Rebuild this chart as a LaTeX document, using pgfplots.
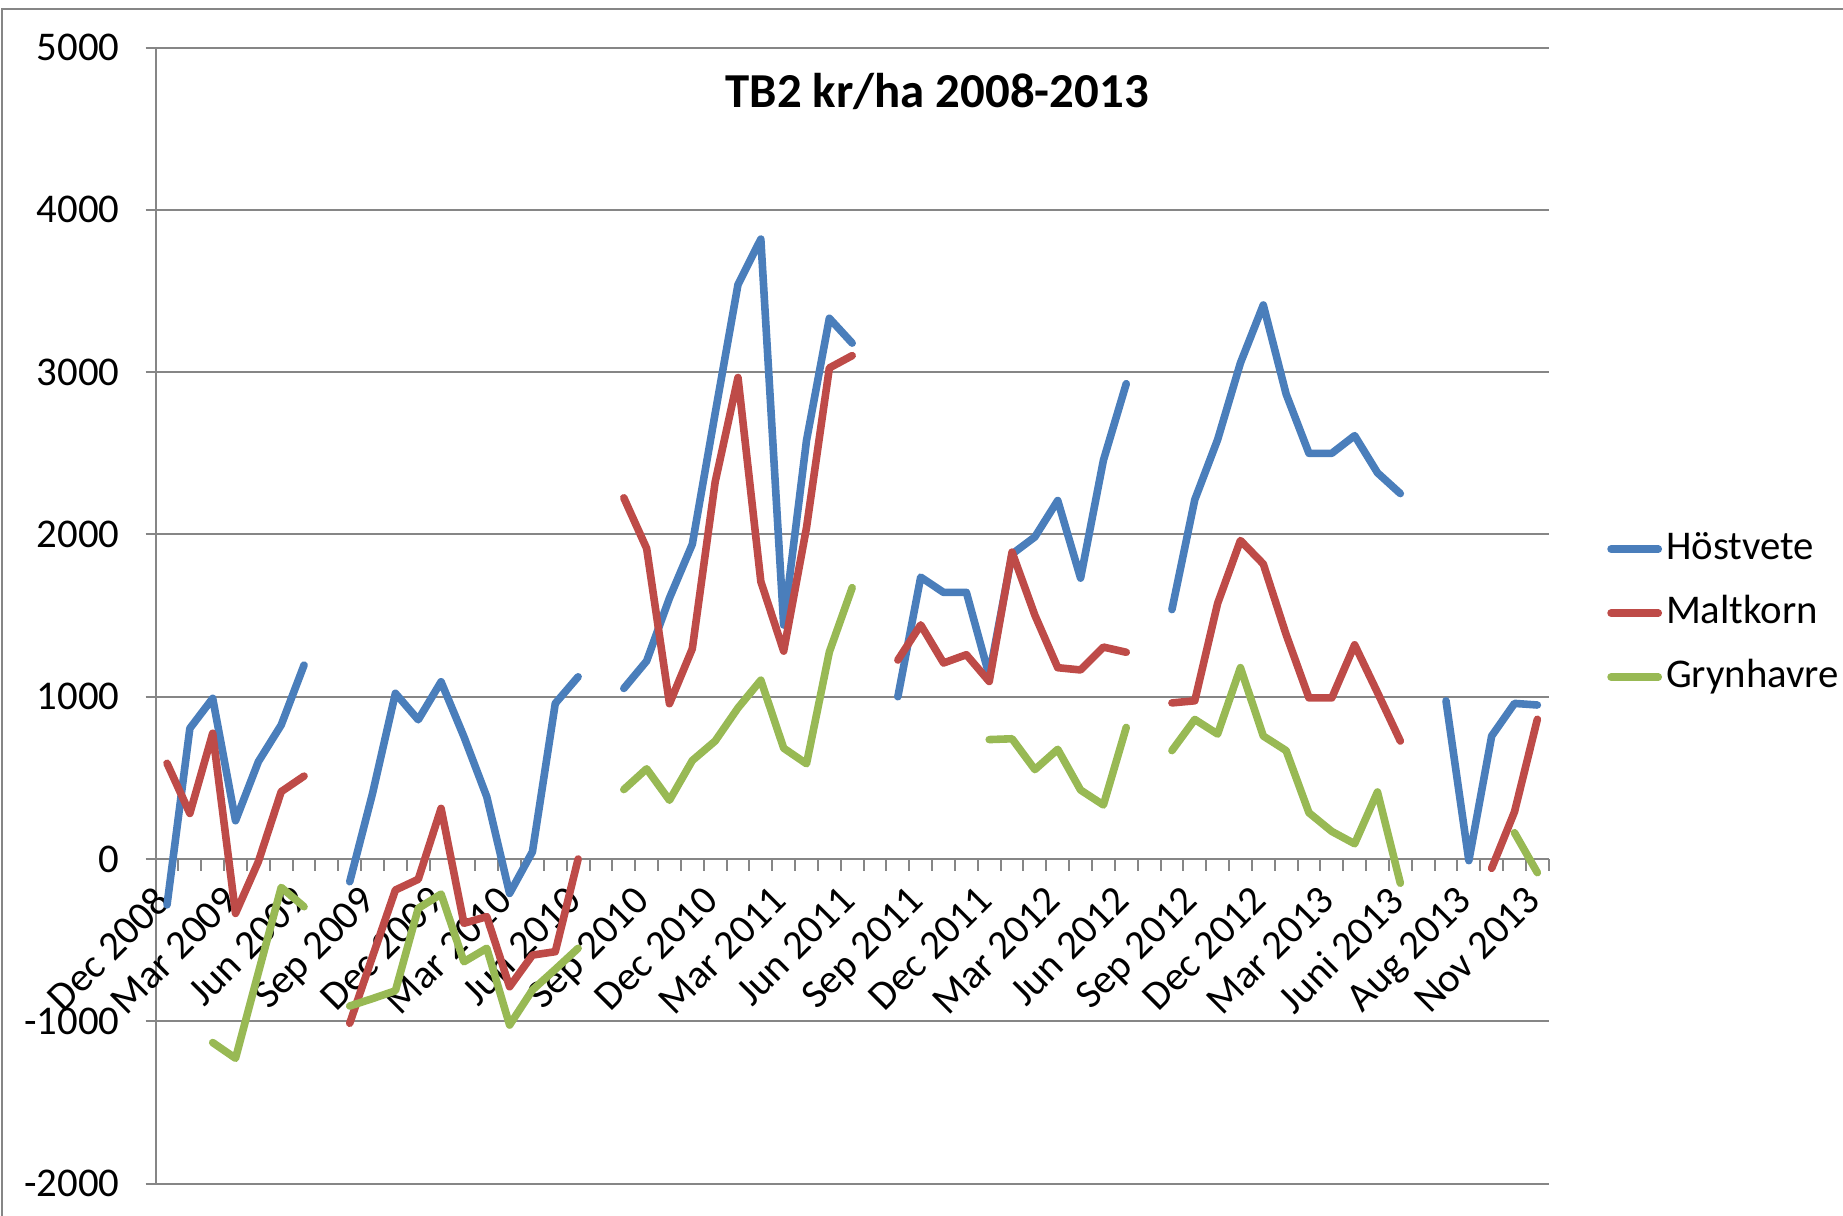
\documentclass[border=0pt]{standalone}
\usepackage{pgfplots}
\pgfplotsset{compat=1.18}
\usepackage{pgfplotstable}
\usepackage{fontspec}
\setmainfont{Carlito}
\definecolor{cBlue}{RGB}{74,126,187}
\definecolor{cRed}{RGB}{190,75,72}
\definecolor{cGreen}{RGB}{152,185,84}
\definecolor{cGrid}{RGB}{134,134,134}

\pgfplotstableread{
i H M G
0 -283 590 nan
1 805 281 nan
2 990 775 -1131
3 236 -335 -1228
4 600 -16 -700
5 826 415 -175
6 1195 511 -294
7 nan nan nan
8 -140 -1012 -906
9 405 -600 -860
10 1021 -191 -812
11 858 -125 -304
12 1092 312 -216
13 754 -396 -633
14 384 -355 -550
15 -212 -787 -1023
16 45 -592 -807
17 959 -571 -680
18 1123 0 -550
19 nan nan nan
20 1051 2226 428
21 1220 1914 556
22 1608 957 362
23 1940 1296 607
24 2746 2323 727
25 3540 2967 931
26 3820 1710 1102
27 1442 1281 683
28 2579 2042 587
29 3332 3026 1276
30 3179 3102 1672
31 nan nan nan
32 1000 1226 nan
33 1737 1443 nan
34 1643 1208 nan
35 1643 1259 nan
36 1130 1094 736
37 1879 1891 741
38 1985 1502 551
39 2209 1179 676
40 1731 1165 425
41 2457 1306 333
42 2929 1274 811
43 nan nan nan
44 1537 962 668
45 2214 975 860
46 2584 1575 770
47 3057 1963 1179
48 3414 1818 758
49 2865 1383 668
50 2500 993 285
51 2500 993 170
52 2609 1320 94
53 2380 1026 413
54 2252 727 -149
55 nan nan nan
56 975 nan nan
57 -10 nan nan
58 758 -57 nan
59 959 291 162
60 949 861 -84
}\datatable

\begin{document}
\begin{tikzpicture}
\useasboundingbox (0,0) rectangle (460.75pt,304pt);
\draw[cGrid, line width=0.5pt] (0.6pt,0) -- (0.6pt,301.75pt) -- (460.75pt,301.75pt);
\begin{axis}[
  scale only axis,
  width=348.3pt, height=284pt,
  at={(38.9pt,8.1pt)}, anchor=south west,
  xmin=-0.5, xmax=60.5, ymin=-2000, ymax=5000,
  axis x line*=middle, axis y line*=left,
  hide obscured x ticks=false, hide obscured y ticks=false,
  axis line style={cGrid, line width=0.5pt},
  ytick={-2000,-1000,0,1000,2000,3000,4000,5000},
  yticklabels={-2000,-1000,0,1000,2000,3000,4000,5000},
  ymajorgrids,
  grid style={cGrid, line width=0.5pt},
  tick align=outside,
  major tick length=2.5pt,
  minor tick length=2.9pt,
  tick style={cGrid, line width=0.5pt},
  major x tick style={draw=none},
  xtick={0,3,...,60},
  xticklabels={Dec 2008,Mar 2009,Jun 2009,Sep 2009,Dec 2009,Mar 2010,Jun 2010,Sep 2010,Dec 2010,Mar 2011,Jun 2011,Sep 2011,Dec 2011,Mar 2012,Jun 2012,Sep 2012,Dec 2012,Mar 2013,Juni 2013,Aug 2013,Nov 2013},
  minor xtick={-0.5,0.5,...,60.5},
  ticklabel style={font=\fontsize{10.2}{12}\selectfont},
  xticklabel style={rotate=45, anchor=north east, inner sep=1pt, yshift=1pt, xshift=-4pt},
  yticklabel style={anchor=east, xshift=-3pt},
  unbounded coords=jump,
  clip=false,
  legend style={at={(1.0328,0.5022)}, anchor=west, draw=none, fill=none,
    font=\fontsize{10.2}{12}\selectfont, row sep=5pt,
    nodes={inner sep=1pt, text height=7pt, text depth=2pt}},
  legend cell align=left,
  legend image code/.code={\draw[#1] (0pt,0pt) -- (11.8pt,0pt);},
  every axis plot/.append style={line width=1.9pt, line cap=round, line join=round},
]
\addplot[cBlue] table[x=i, y=H] {\datatable};
\addplot[cRed] table[x=i, y=M] {\datatable};
\addplot[cGreen] table[x=i, y=G] {\datatable};
\legend{Höstvete, Maltkorn, Grynhavre}
\node[font=\bfseries\fontsize{12.2}{14}\selectfont] at (rel axis cs:0.561,0.961) {TB2 kr/ha 2008-2013};
\end{axis}
\end{tikzpicture}
\end{document}
